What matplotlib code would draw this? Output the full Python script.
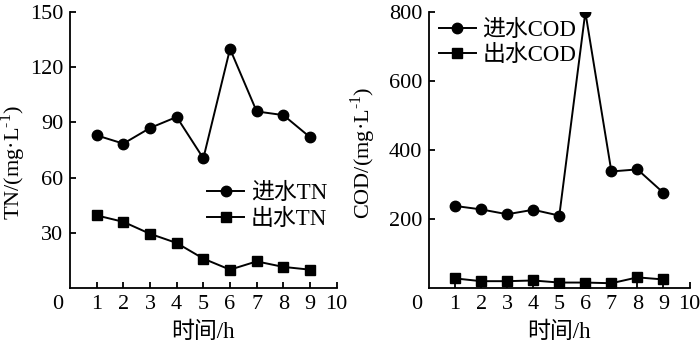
import matplotlib
matplotlib.use("Agg")
import matplotlib.pyplot as plt

plt.rcParams["font.family"] = ["Liberation Serif", "Noto Sans CJK SC"]
plt.rcParams["mathtext.fontset"] = "custom"
plt.rcParams["mathtext.rm"] = "Liberation Serif"
plt.rcParams["axes.linewidth"] = 1.3

hours = [1, 2, 3, 4, 5, 6, 7, 8, 9]
tn_in = [83, 78.5, 87, 93, 70.5, 130, 96, 94, 82]
tn_out = [39.5, 36, 29.5, 24.5, 16, 10, 14.5, 11.5, 10]
cod_in = [238, 228, 214, 227, 210, 800, 338, 344, 276]
cod_out = [28, 20, 20, 22, 16, 16, 14, 31, 25]

tn_ticks = [30, 60, 90, 120, 150]
cod_ticks = [200, 400, 600, 800]
x_ticks = [1, 2, 3, 4, 5, 6, 7, 8, 9, 10]

FS = 16
PAD = 5
fig = plt.figure(figsize=(7.0, 3.45), dpi=100)
ax1 = fig.add_axes([0.1, 0.165, 0.381, 0.8])
ax2 = fig.add_axes([0.613, 0.165, 0.372, 0.8])


def style(ax, ymax, yticks, ylabel, ylab_xy):
    ax.set_xlim(0, 10)
    ax.set_ylim(0, ymax)
    ax.set_xticks(x_ticks)
    ax.set_yticks(yticks)
    for s in ("top", "right"):
        ax.spines[s].set_visible(False)
    ax.tick_params(direction="in", length=4.5, width=1.3, labelsize=FS, pad=PAD)
    ax.set_xlabel("时间/h", fontsize=16.5)
    ax.xaxis.set_label_coords(0.5, -0.122)
    ax.set_ylabel(ylabel, fontsize=16)
    ax.yaxis.set_label_coords(*ylab_xy)
    # the shared "0" at the corner, level with the x tick labels
    ax.annotate("0", xy=(0, 0), xycoords="axes fraction", xytext=(-PAD, -PAD),
                textcoords="offset points", ha="right", va="top", fontsize=FS)


kw = dict(color="black", lw=1.4, ms=7.5)
leg = dict(frameon=False, fontsize=16.5, handlelength=1.6, handletextpad=0.3,
           labelspacing=0.2, borderpad=0, borderaxespad=0)

ax1.plot(hours, tn_in, marker="o", label="进水TN", **kw)
ax1.plot(hours, tn_out, marker="s", label="出水TN", **kw)
style(ax1, 150, tn_ticks, "TN/(mg·L$^{\\text{-1}}$)", (-0.157, 0.455))
ax1.legend(loc="center left", bbox_to_anchor=(0.515, 0.295), **leg)

ax2.plot(hours, cod_in, marker="o", label="进水COD", **kw)
ax2.plot(hours, cod_out, marker="s", label="出水COD", **kw)
style(ax2, 800, cod_ticks, "COD/(mg·L$^{\\text{-1}}$)", (-0.198, 0.49))
ax2.legend(loc="center left", bbox_to_anchor=(0.038, 0.888), **leg)

fig.savefig("out.png", dpi=100)
